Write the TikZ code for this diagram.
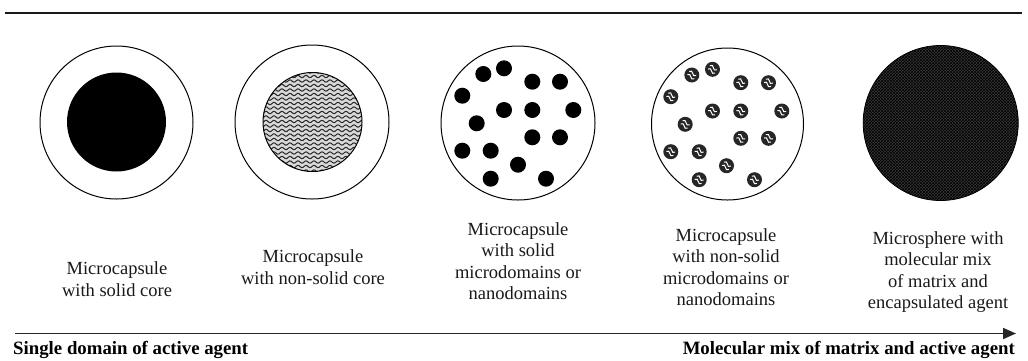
\documentclass[tikz,border=0pt]{standalone}
\usepackage{fontspec}
\setmainfont{Liberation Serif}
\usepackage{xcolor}
\usepackage{tikz}
\usetikzlibrary{arrows.meta,patterns}

\begin{document}
\begin{tikzpicture}[x=1pt,y=-1pt,
  shell/.style={draw=black, line width=1pt},
  core/.style={fill=black},
  wave/.style={draw=black!85, line width=1pt},
  sdot/.style={fill=black},
  axis/.style={-{Triangle[length=13pt,width=11pt]}, draw=black!85, line width=1.8pt},
  lbl/.style={align=center, text=black!90, font=\fontsize{18.5}{21.5}\selectfont},
  endlbl/.style={text=black, font=\fontsize{18.8}{21.5}\selectfont\bfseries, inner sep=0pt},
  nsdot/.pic={
    \fill[black!85] (0,0) circle (7.5);
    \draw[white, line width=1pt, rotate=-30] (-4,-1.8) sin (-2,-3.2) cos (0,-1.8) sin (2,-0.4) cos (4,-1.8);
    \draw[white, line width=1pt, rotate=-30] (-4,2) sin (-2,0.6) cos (0,2) sin (2,3.4) cos (4,2);
  }
]
\useasboundingbox (0,0) rectangle (1028,360);
% top rule
\draw[line width=2.2pt, black!90] (5,13) -- (1022,13);
% microcapsule with solid core
\draw[shell] (116.5,122.5) circle (76.5);
\fill[core] (116.5,122) circle (49.5);
\node[lbl] (lblsolid) at (117,279) {Microcapsule\\with solid core};
% microcapsule with non-solid core
\draw[shell] (312,122) circle (77);
\begin{scope}
  \clip (312.5,122) circle (49.5);
  \fill[gray!30] (312.5,122) circle (49.5);
  \foreach \r in {72,76.5,...,174}
    \draw[wave] plot[domain=0:106, samples=80] (260+\x,{\r+1.2*sin(45*\x)});
\end{scope}
\draw[black, line width=1pt] (312.5,122) circle (49.5);
\node[lbl] (lblliquid) at (313,267) {Microcapsule\\with non-solid core};
% microcapsule with solid microdomains
\draw[shell] (518,123) circle (77);
\foreach \dx/\dy in {-34.7/-49,-14/-54.7,14.3/-41.3,42/-41.3,-55.7/-27.3,-14/-13,14.3/-13,55.3/-13,
    -41.3/0.3,14.3/14.3,42/14.3,-55.7/27.7,-27.3/27.7,0/41.7,-27.3/55.7,28/55.7}
  \fill[sdot] (518+\dx,123+\dy) circle (8);
\node[lbl] (lblsdom) at (518,261) {Microcapsule\\with solid\\microdomains or\\nanodomains};
% microcapsule with non-solid microdomains
\draw[shell] (727.5,124) circle (76);
\foreach \dx/\dy in {-34.7/-49,-14/-54.7,14.3/-41.3,42/-41.3,-55.7/-27.3,-14/-13,14.3/-13,55.3/-13,
    -41.3/0.3,14.3/14.3,42/14.3,-55.7/27.7,-27.3/27.7,0/41.7,-27.3/55.7,28/55.7}
  \pic at (726.5+\dx,124+\dy) {nsdot};
\node[lbl] (lblldom) at (726,267) {Microcapsule\\with non-solid\\microdomains or\\nanodomains};
% microsphere
\fill[black!78] (940.7,123) circle (77.5);
\fill[pattern=crosshatch, pattern color=black] (940.7,123) circle (77.5);
\draw[black, line width=0.8pt] (940.7,123) circle (77.5);
\node[lbl] (lblsphere) at (938,272) {Microsphere with\\molecular mix\\of matrix and\\encapsulated agent};
% bottom axis
\coordinate (axstart) at (15,333.5);
\coordinate (axend) at (1016,333.5);
\draw[axis] (axstart) -- (axend);
\node[endlbl, anchor=west] (lblleft) at (13,350) {Single domain of active agent};
\node[endlbl, anchor=east] (lblright) at (1015,350) {Molecular mix of matrix and active agent};
\end{tikzpicture}
\end{document}
